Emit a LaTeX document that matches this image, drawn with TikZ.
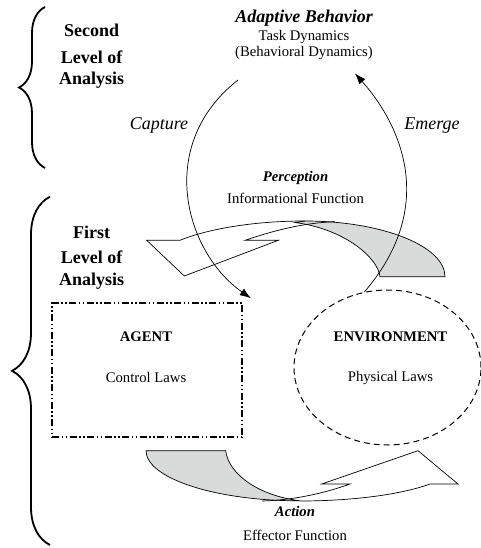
\documentclass[tikz,border=0pt]{standalone}
\usepackage{fontspec}
\setmainfont{Liberation Serif}
\usepackage{tikz}
\usetikzlibrary{arrows.meta,positioning,shapes.geometric,decorations.pathreplacing}
\usepackage{xcolor}
\definecolor{bandgray}{RGB}{217,218,218}

\begin{document}
\begin{tikzpicture}[x=1pt,y=-1pt,>={Latex[length=11pt,width=8pt]},on grid,
	big/.style={inner sep=0pt,text height=12pt,text depth=4pt,font=\fontsize{18}{21}\selectfont},
	txt/.style={inner sep=0pt,text height=10pt,text depth=3pt,font=\fontsize{14.7}{17}\selectfont}]
		\useasboundingbox (0,0) rectangle (481,548);

		  \node[big]            (ab)  at (304,18.7)       {\bfseries\itshape Adaptive Behavior};
		  \node[txt]            (td)  [below =18.5pt of ab]  {Task Dynamics};
		  \node[txt]            (bd)  [below =16.3pt of td]  {(Behavioral Dynamics)};
		  \node[big]            (s2)  at (91.7,32.7)      {\bfseries Second};
		  \node[big]            (l2)  [below =27pt of s2]  {\bfseries Level of};
		  \node[big]            (a2)  [below =21pt of l2]  {\bfseries Analysis};
		  \node[big]            (s1)  at (91.7,234.3)     {\bfseries First};
		  \node[big]            (l1)  [below =25pt of s1]  {\bfseries Level of};
		  \node[big]            (a1)  [below =22pt of l1]  {\bfseries Analysis};
		  \node[big]            (cap) at (159,126)        {\itshape Capture};
		  \node[big]            (em)  at (432,126)        {\itshape Emerge};
		  \node[txt]            (per) at (295.5,178.2)    {\bfseries\itshape Perception};
		  \node[txt]            (inf) [below =21.6pt of per] {Informational Function};
		  \node[txt]            (act) at (295,512.5)      {\bfseries\itshape Action};
		  \node[txt]            (eff) [below =24pt of act] {Effector Function};

		  \node[draw,line width=1.6pt,inner sep=0pt,minimum width=190pt,minimum height=134pt,
		        dash pattern=on 7pt off 2.5pt on 1.5pt off 2.5pt on 1.5pt off 2.5pt] (agent) at (147,370) {};
		  \node[txt]            (agt) at (146,338.2)      {\bfseries AGENT};
		  \node[txt]            (cl)  [below =40.3pt of agt] {Control Laws};
		  \node[draw,ellipse,line width=1pt,inner sep=0pt,minimum width=187pt,minimum height=155pt,
		        dash pattern=on 6pt off 4pt] (env) at (387.5,367.5) {};
		  \node[txt]            (envt) at (390.5,338.2)   {\bfseries ENVIRONMENT};
		  \node[txt]            (pl)  [below =40pt of envt] {Physical Laws};

		\tikzset{brc/.style={decorate,line width=1.8pt,decoration={brace,amplitude=#1}}}
		\draw[brc=26pt] (45,168) -- (45,7);
		\draw[brc=38pt] (50,545) -- (50,196.7);

		\tikzset{band/.style={line width=0.7pt,fill=bandgray,draw=black}}
		\tikzset{bandline/.style={line width=0.7pt,line join=miter}}
		\filldraw[band] (380,276.7) -- (445,276.7) .. controls (445,246) and (382,221) .. (305,221)
			-- (295,222.5) .. controls (345,229) and (378,258) .. (380,276.7) -- cycle;
		\draw[bandline] (305,221) .. controls (250,221) and (205,230) .. (180,240.3) -- (146.7,240.3)
			-- (184.3,276) -- (278.3,240.3) -- (245,240.3) .. controls (270,232) and (300,223) .. (335,221.7);
		\filldraw[band] (146,450.7) -- (225.7,450.7) .. controls (228,472) and (255,495) .. (300,500.8)
			.. controls (215,501) and (146,478) .. (146,450.7) -- cycle;
		\draw[bandline] (300,501) .. controls (350,501) and (400,495) .. (430,484) -- (458,484)
			-- (418,450.7) -- (321.7,484) -- (350,484) .. controls (325,493) and (295,500) .. (262,501);

		\coordinate (cs) at (238,80);
		\coordinate (ct) at ([shift={(8,-4)}]agent.north east);
		\coordinate (et) at (355,73.4);
		\draw[->,line width=0.7pt] (cs) .. controls (155,145) and (185,252) .. (ct);
		\draw[->,line width=0.7pt] (env.107) .. controls (435,210) and (405,130) .. (et);
	\end{tikzpicture}
\end{document}
